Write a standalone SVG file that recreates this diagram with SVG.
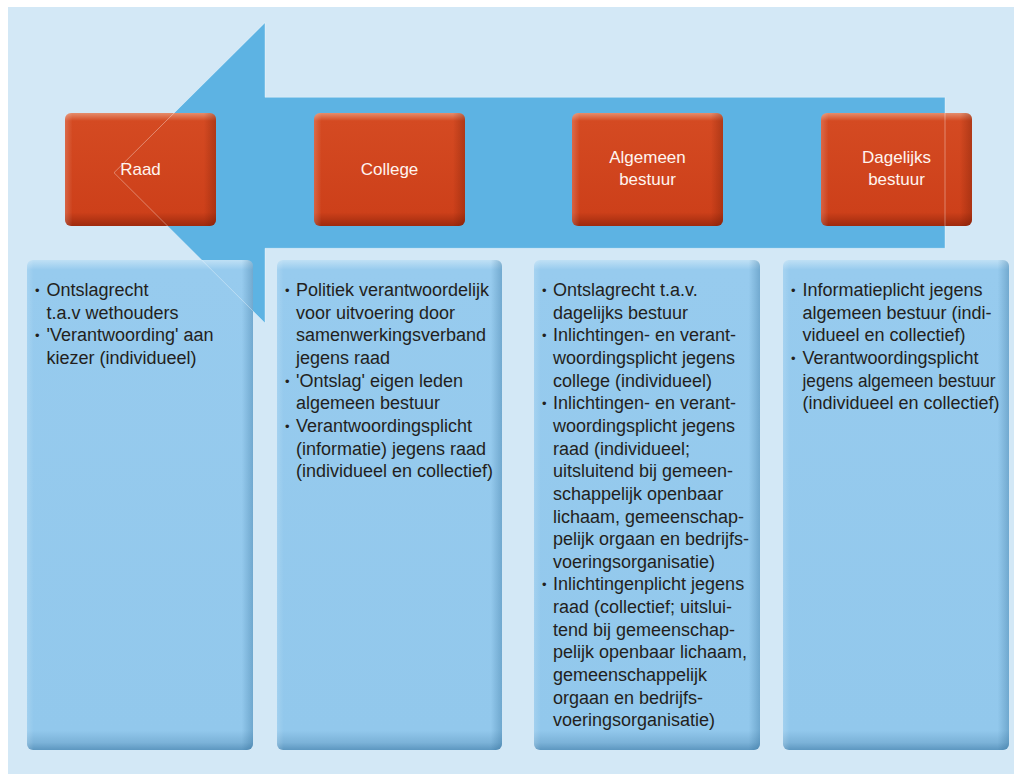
<svg xmlns="http://www.w3.org/2000/svg" width="1014" height="774" viewBox="0 0 1014 774">
  <defs>
    <linearGradient id="redV" x1="0" y1="0" x2="0" y2="1">
      <stop offset="0" stop-color="#e58d6d"/>
      <stop offset="0.07" stop-color="#d44a22"/>
      <stop offset="0.88" stop-color="#cd401a"/>
      <stop offset="1" stop-color="#9e2a0e"/>
    </linearGradient>
    <linearGradient id="redH" x1="0" y1="0" x2="1" y2="0">
      <stop offset="0" stop-color="#ffffff" stop-opacity="0.18"/>
      <stop offset="0.05" stop-color="#ffffff" stop-opacity="0"/>
      <stop offset="0.92" stop-color="#5a1300" stop-opacity="0"/>
      <stop offset="1" stop-color="#5a1300" stop-opacity="0.3"/>
    </linearGradient>
    <linearGradient id="blueV" x1="0" y1="0" x2="0" y2="1">
      <stop offset="0" stop-color="#bfe0f5"/>
      <stop offset="0.02" stop-color="#97cbee"/>
      <stop offset="0.96" stop-color="#92c8ec"/>
      <stop offset="0.985" stop-color="#7bb2d8"/>
      <stop offset="1" stop-color="#5d97c0"/>
    </linearGradient>
    <linearGradient id="blueH" x1="0" y1="0" x2="1" y2="0">
      <stop offset="0" stop-color="#ffffff" stop-opacity="0.15"/>
      <stop offset="0.03" stop-color="#ffffff" stop-opacity="0"/>
      <stop offset="0.95" stop-color="#1d5c88" stop-opacity="0"/>
      <stop offset="1" stop-color="#1d5c88" stop-opacity="0.3"/>
    </linearGradient>
    <path id="arrowShape" d="M945,97.3 L265,97.3 L265,22.7 L114,172.7 L265,323 L265,248.3 L945,248.3 Z"/>
  </defs>
  <style>
    .lbl { font-family: "Liberation Sans", Arial, sans-serif; font-size: 17px; fill: #fff4ef; text-anchor: middle; }
    .t { font-family: "Liberation Sans", Arial, sans-serif; font-size: 18px; fill: #231f20; }
    .b { font-family: "Liberation Sans", Arial, sans-serif; font-size: 13px; fill: #231f20; }
  </style>

  <rect x="0" y="0" width="1014" height="774" fill="#ffffff"/>
  <rect x="8" y="7" width="1006" height="767" fill="#d3e8f6"/>

  <g id="connectors">
    <use href="#arrowShape" fill="#5db3e3"/>
  </g>

  <g id="node-raad">
    <rect x="65" y="113" width="151" height="113" rx="6" fill="url(#redV)"/>
    <rect x="65" y="113" width="151" height="113" rx="6" fill="url(#redH)"/>
    <text class="lbl" x="140.5" y="175">Raad</text>
  </g>
  <g id="node-college">
    <rect x="314" y="113" width="151" height="113" rx="6" fill="url(#redV)"/>
    <rect x="314" y="113" width="151" height="113" rx="6" fill="url(#redH)"/>
    <text class="lbl" x="389.5" y="175">College</text>
  </g>
  <g id="node-algemeen">
    <rect x="572" y="113" width="151" height="113" rx="6" fill="url(#redV)"/>
    <rect x="572" y="113" width="151" height="113" rx="6" fill="url(#redH)"/>
    <text class="lbl" x="647.5" y="163">Algemeen</text>
    <text class="lbl" x="647.5" y="185">bestuur</text>
  </g>
  <g id="node-dagelijks">
    <rect x="821" y="113" width="151" height="113" rx="6" fill="url(#redV)"/>
    <rect x="821" y="113" width="151" height="113" rx="6" fill="url(#redH)"/>
    <text class="lbl" x="896.5" y="163">Dagelijks</text>
    <text class="lbl" x="896.5" y="185">bestuur</text>
  </g>

  <g id="box-raad">
    <rect x="27" y="260" width="226" height="490" rx="6" fill="url(#blueV)"/>
    <rect x="27" y="260" width="226" height="490" rx="6" fill="url(#blueH)"/>
    <text class="b" x="35" y="295">•</text>
    <text class="b" x="35" y="340.3">•</text>
    <text class="t">
      <tspan x="46.5" y="296">Ontslagrecht</tspan>
      <tspan x="46.5" y="318.65">t.a.v wethouders</tspan>
      <tspan x="46.5" y="341.3">'Verantwoording' aan</tspan>
      <tspan x="46.5" y="363.95">kiezer (individueel)</tspan>
    </text>
  </g>

  <g id="box-college">
    <rect x="277" y="260" width="225" height="490" rx="6" fill="url(#blueV)"/>
    <rect x="277" y="260" width="225" height="490" rx="6" fill="url(#blueH)"/>
    <text class="b" x="285" y="295">•</text>
    <text class="b" x="285" y="385.6">•</text>
    <text class="b" x="285" y="430.9">•</text>
    <text class="t">
      <tspan x="296" y="296">Politiek verantwoordelijk</tspan>
      <tspan x="296" y="318.65">voor uitvoering door</tspan>
      <tspan x="296" y="341.3">samenwerkingsverband</tspan>
      <tspan x="296" y="363.95">jegens raad</tspan>
      <tspan x="296" y="386.6">'Ontslag' eigen leden</tspan>
      <tspan x="296" y="409.25">algemeen bestuur</tspan>
      <tspan x="296" y="431.9">Verantwoordingsplicht</tspan>
      <tspan x="296" y="454.55">(informatie) jegens raad</tspan>
      <tspan x="296" y="477.2">(individueel en collectief)</tspan>
    </text>
  </g>

  <g id="box-algemeen">
    <rect x="534" y="260" width="226" height="490" rx="6" fill="url(#blueV)"/>
    <rect x="534" y="260" width="226" height="490" rx="6" fill="url(#blueH)"/>
    <text class="b" x="542" y="295">•</text>
    <text class="b" x="542" y="340.3">•</text>
    <text class="b" x="542" y="408.25">•</text>
    <text class="b" x="542" y="589.45">•</text>
    <text class="t">
      <tspan x="553" y="296">Ontslagrecht t.a.v.</tspan>
      <tspan x="553" y="318.65">dagelijks bestuur</tspan>
      <tspan x="553" y="341.3">Inlichtingen- en verant-</tspan>
      <tspan x="553" y="363.95">woordingsplicht jegens</tspan>
      <tspan x="553" y="386.6">college (individueel)</tspan>
      <tspan x="553" y="409.25">Inlichtingen- en verant-</tspan>
      <tspan x="553" y="431.9">woordingsplicht jegens</tspan>
      <tspan x="553" y="454.55">raad (individueel;</tspan>
      <tspan x="553" y="477.2">uitsluitend bij gemeen-</tspan>
      <tspan x="553" y="499.85">schappelijk openbaar</tspan>
      <tspan x="553" y="522.5">lichaam, gemeenschap-</tspan>
      <tspan x="553" y="545.15">pelijk orgaan en bedrijfs-</tspan>
      <tspan x="553" y="567.8">voeringsorganisatie)</tspan>
      <tspan x="553" y="590.45">Inlichtingenplicht jegens</tspan>
      <tspan x="553" y="613.1">raad (collectief; uitslui-</tspan>
      <tspan x="553" y="635.75">tend bij gemeenschap-</tspan>
      <tspan x="553" y="658.4">pelijk openbaar lichaam,</tspan>
      <tspan x="553" y="681.05">gemeenschappelijk</tspan>
      <tspan x="553" y="703.7">orgaan en bedrijfs-</tspan>
      <tspan x="553" y="726.35">voeringsorganisatie)</tspan>
    </text>
  </g>

  <g id="box-dagelijks">
    <rect x="783" y="260" width="226" height="490" rx="6" fill="url(#blueV)"/>
    <rect x="783" y="260" width="226" height="490" rx="6" fill="url(#blueH)"/>
    <text class="b" x="791" y="295">•</text>
    <text class="b" x="791" y="362.95">•</text>
    <text class="t">
      <tspan x="802.5" y="296">Informatieplicht jegens</tspan>
      <tspan x="802.5" y="318.65">algemeen bestuur (indi-</tspan>
      <tspan x="802.5" y="341.3">vidueel en collectief)</tspan>
      <tspan x="802.5" y="363.95">Verantwoordingsplicht</tspan>
      <tspan x="802.5" y="386.6" textLength="193" lengthAdjust="spacingAndGlyphs">jegens algemeen bestuur</tspan>
      <tspan x="802.5" y="409.25">(individueel en collectief)</tspan>
    </text>
  </g>

  <g id="arrow-outline">
    <use href="#arrowShape" fill="none" stroke="#ffffff" stroke-opacity="0.45" stroke-width="0.8"/>
  </g>
</svg>
